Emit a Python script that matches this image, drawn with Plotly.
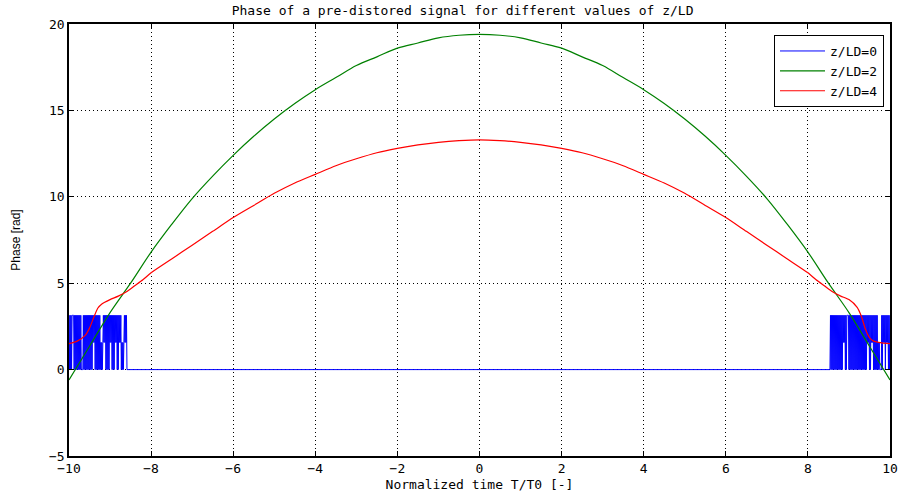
import numpy as np
import plotly.graph_objects as go

# ---------------- data ----------------
# z/LD = 2 (green)
green_x = [-10, -9.5, -9, -8.5, -8, -7.5, -7, -6.5, -6, -5.5, -5, -4.5, -4, -3.5, -3, -2.5,
           -2, -1.5, -1, -0.5, 0, 0.5, 1, 1.5, 2, 2.5, 3, 3.5, 4, 4.5, 5, 5.5, 6, 6.5, 7,
           7.5, 8, 8.5, 9, 9.5, 10]
green_y = [-0.6, 1.35, 3.3, 5.0, 6.8, 8.4, 9.9, 11.2, 12.4, 13.5, 14.5, 15.4, 16.2, 16.9,
           17.6, 18.1, 18.6, 18.9, 19.2, 19.35, 19.4, 19.35, 19.2, 18.9, 18.6, 18.1, 17.6,
           16.9, 16.2, 15.4, 14.5, 13.5, 12.4, 11.2, 9.9, 8.4, 6.8, 5.0, 3.3, 1.35, -0.6]

# z/LD = 4 (red)
red_x = [-10, -9.8, -9.6, -9.5, -9.4, -9.3, -9.2, -9.0, -8.8, -8.6, -8.4, -8.2, -8, -7.5,
         -7, -6.5, -6, -5.5, -5, -4.5, -4, -3.5, -3, -2.5, -2, -1.5, -1, -0.5, 0,
         0.5, 1, 1.5, 2, 2.5, 3, 3.5, 4, 4.5, 5, 5.5, 6, 6.5, 7, 7.5, 8, 8.2, 8.4, 8.6,
         8.8, 9.0, 9.2, 9.3, 9.4, 9.5, 9.6, 9.8, 10]
red_y = [1.5, 1.65, 2.0, 2.4, 3.0, 3.55, 3.8, 4.05, 4.25, 4.5, 4.85, 5.2, 5.6, 6.4,
         7.2, 8.0, 8.8, 9.5, 10.2, 10.8, 11.3, 11.8, 12.2, 12.55, 12.8, 13.0, 13.15, 13.25, 13.3,
         13.25, 13.15, 13.0, 12.8, 12.55, 12.2, 11.8, 11.3, 10.8, 10.2, 9.5, 8.8, 8.0, 7.2, 6.4,
         5.6, 5.2, 4.85, 4.5, 4.25, 4.05, 3.6, 3.1, 2.35, 1.85, 1.65, 1.55, 1.5]

# z/LD = 0 (blue): phase levels in units of pi/2 (0, pi/2, pi), sampled every 0.0125
blue_step = 0.0125
blue_left_start = -10.0
blue_left_levels = ("202020" "2222" "02020202020202" "0000" "202020202020202020" "21212"
                    "02020202020" "10101" "21212" "0202020" "21212" "02020" "21212" "020"
                    "21212" "0" "10101" "21212" "0")
blue_right_start = 8.55
blue_right_levels = ("202020202020202020202020" "21212" "0202" "222"
                     "02020202020202020202020202020202020" "21212" "020" "21212"
                     "02020202" "01010" "000" "20" "21212" "0" "21212" "0202")

# ---------------- build blue trace ----------------
lx = [blue_left_start + i * blue_step for i in range(len(blue_left_levels))]
ly = [int(c) * np.pi / 2 for c in blue_left_levels]
rx = [blue_right_start + i * blue_step for i in range(len(blue_right_levels))]
ry = [int(c) * np.pi / 2 for c in blue_right_levels]
blue_x = lx + [blue_right_start - blue_step] + rx
blue_y = ly + [0.0] + ry

FONT = "DejaVu Sans Mono"
FS = 13

fig = go.Figure()
fig.add_trace(go.Scatter(x=blue_x, y=blue_y, mode="lines", name="z/LD=0",
                         line=dict(color="#0000ff", width=1, simplify=False)))
fig.add_trace(go.Scatter(x=green_x, y=green_y, mode="lines", name="z/LD=2",
                         line=dict(color="#008000", width=1.2, shape="spline")))
fig.add_trace(go.Scatter(x=red_x, y=red_y, mode="lines", name="z/LD=4",
                         line=dict(color="#ff0000", width=1.2, shape="spline", smoothing=0.6)))

axis_common = dict(
    showline=True, linecolor="black", linewidth=1.5, mirror="allticks",
    ticks="inside", ticklen=5, tickcolor="black", tickwidth=1,
    showgrid=True, gridcolor="black", gridwidth=1, griddash="1px,3px",
    zeroline=False, automargin=False,
    tickfont=dict(family=FONT, size=FS, color="black"),
)

fig.update_xaxes(range=[-10, 10], tickvals=list(range(-10, 11, 2)),
                 title=dict(text="Normalized time T/T0 [-]",
                            font=dict(family=FONT, size=FS, color="black"), standoff=5),
                 **axis_common)
fig.update_yaxes(range=[-5, 20], tickvals=[-5, 0, 5, 10, 15, 20],
                 title=dict(text="Phase [rad]",
                            font=dict(family="Liberation Sans", size=12, color="black"),
                            standoff=26),
                 **axis_common)

fig.update_layout(
    width=900, height=501,
    margin=dict(l=69, r=10, t=24, b=45),
    paper_bgcolor="white", plot_bgcolor="white",
    title=dict(text="Phase of a pre-distored signal for different values of z/LD",
               x=0.514, xanchor="center", y=0.988, yanchor="top",
               font=dict(family=FONT, size=FS, color="black")),
    legend=dict(x=0.9927, y=0.9745, xanchor="right", yanchor="top",
                bgcolor="white", bordercolor="black", borderwidth=1,
                font=dict(family=FONT, size=FS, color="black"),
                tracegroupgap=0, itemwidth=45),
    showlegend=True,
)

fig.write_html("out.html")
